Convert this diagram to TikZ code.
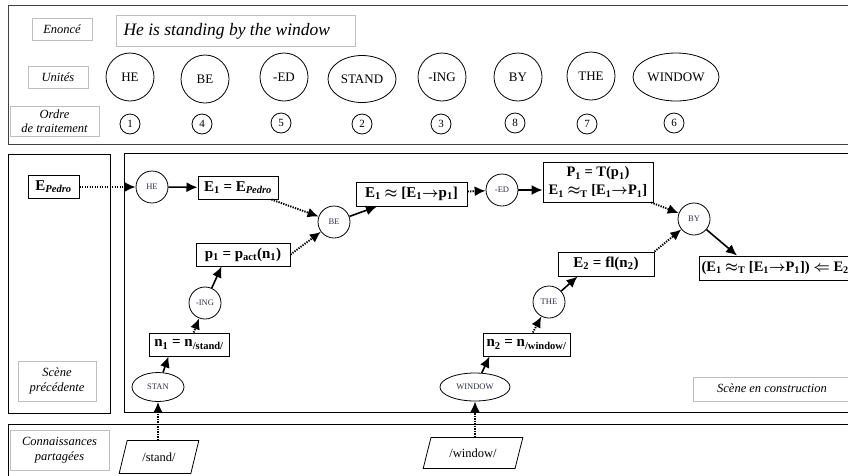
\documentclass[tikz,border=0pt]{standalone}
\usepackage{fontspec}
\setmainfont{Liberation Serif}
\usetikzlibrary{shapes.geometric,arrows.meta,calc}
\begin{document}
\begin{tikzpicture}[x=1pt,y=-1pt,
  lbl/.style={draw=black!25,line width=0.6pt,font=\fontsize{12.5}{15}\selectfont\itshape,inner sep=2pt,align=center},
  unit/.style={circle,draw,line width=0.8pt,minimum size=48pt,inner sep=0pt,font=\fontsize{13}{14}\selectfont},
  unitell/.style={ellipse,draw,line width=0.8pt,inner sep=0pt,font=\fontsize{13}{14}\selectfont},
  num/.style={circle,draw,line width=0.8pt,minimum size=20pt,inner sep=0pt,font=\fontsize{11}{12}\selectfont},
  eq/.style={draw,line width=1pt,inner sep=2.5pt,minimum height=23pt,font=\fontsize{15}{17}\selectfont\bfseries\boldmath,align=center},
  op/.style={circle,draw,line width=0.8pt,minimum size=32pt,inner sep=0pt,text=opcol,font=\fontsize{8.5}{9}\selectfont},
  opell/.style={ellipse,draw,line width=0.8pt,inner sep=0pt,text=opcol,font=\fontsize{8.5}{9}\selectfont},
  para/.style={trapezium,trapezium left angle=72,trapezium right angle=108,trapezium stretches=true,draw,line width=0.8pt,font=\fontsize{12.5}{14}\selectfont},
  panel/.style={draw,line width=0.8pt},
  sarrow/.style={line width=1.6pt,-{Latex[length=11pt,width=10pt]}},
  darrow/.style={line width=1.9pt,dash pattern=on 1.3pt off 1.2pt,-{Latex[length=11pt,width=10pt]}}
]
\definecolor{opcol}{rgb}{0.18,0.18,0.32}
\useasboundingbox (0,0) rectangle (848,475);
\clip (0,0) rectangle (848,475);
\fill[white] (0,0) rectangle (848,475);

% panels
\draw[panel,draw=black!75] (8,5) rectangle (870,144);
\draw[panel] (8,154) rectangle (110,413);
\draw[panel] (124,153) rectangle (870,412);
\draw[panel] (8,424) rectangle (870,490);

% top section labels
\node[lbl,minimum width=60pt,minimum height=22pt] (enl) at (62,29) {Enoncé};
\node[draw=black!25,line width=0.6pt,minimum width=239pt,minimum height=31pt,anchor=west,inner sep=0pt] (sent) at (116,30.5) {};
\node[anchor=west,font=\fontsize{17.5}{19}\selectfont\itshape] (senttxt) at (120,31) {He is standing by the window};
\node[lbl,minimum width=60pt,minimum height=22pt] (unl) at (58,77) {Unités};
\node[lbl,minimum width=89pt,minimum height=30pt,font=\fontsize{12.5}{14.5}\selectfont\itshape] (orl) at (54.5,121) {Ordre\\de traitement};

% units
\node[unit] (uhe) at (130,77) {HE};
\node[unit] (ube) at (205,79) {BE};
\node[unit] (ued) at (284,77) {-ED};
\node[unitell,minimum width=68pt,minimum height=47pt] (ustand) at (362,79) {STAND};
\node[unit] (uing) at (442,77) {-ING};
\node[unit] (uby) at (518,77) {BY};
\node[unit] (uthe) at (591,76) {THE};
\node[unitell,minimum width=86pt,minimum height=48pt] (uwin) at (676,77) {WINDOW};

% order numbers
\node[num] (n1c) at (130,124) {1};
\node[num] (n4c) at (202,124) {4};
\node[num] (n5c) at (281,123) {5};
\node[num] (n2c) at (362,124) {2};
\node[num] (n3c) at (441,124) {3};
\node[num] (n8c) at (515,123) {8};
\node[num] (n7c) at (587,124) {7};
\node[num] (n6c) at (674,123) {6};

% scene labels
\node[lbl,minimum width=78pt,minimum height=40pt] (prev) at (57,381) {Scène\\précédente};
\node[lbl,minimum width=160pt,minimum height=24pt,anchor=west] (constr) at (693,389) {};
\node[font=\fontsize{12.5}{14}\selectfont\itshape] (constrtxt) at (772,388) {Scène en construction};
\node[lbl,minimum width=99pt,minimum height=40pt] (conn) at (59.5,450) {Connaissances\\partagées};

% main graph
\node[eq,minimum width=51pt] (ep) at (53.5,187) {E\textsubscript{\textit{Pedro}}};
\node[op] (he) at (152,187) {HE};
\node[eq,minimum width=80pt] (e1) at (238,187.5) {E\textsubscript{1} = E\textsubscript{\textit{Pedro}}};
\node[op] (be) at (334,222) {BE};
\node[eq,minimum width=94pt] (p1) at (243,254.5) {p\textsubscript{1} = p\textsubscript{act}(n\textsubscript{1})};
\node[op] (ing) at (205,303) {-ING};
\node[eq,minimum width=80pt] (nst) at (189,344.5) {n\textsubscript{1} = n\textsubscript{/stand/}};
\node[opell,minimum width=52pt,minimum height=29pt] (stan) at (158,387) {STAN};
\node[para,minimum width=80pt,minimum height=33pt] (stand) at (159,457) {/stand/};

\node[eq,minimum width=111pt,minimum height=24pt] (eap) at (411.5,194) {E\textsubscript{1} $\approx$ [E\textsubscript{1}$\rightarrow$p\textsubscript{1}]};
\node[op] (ed) at (502,190) {-ED};
\node[eq,minimum width=110pt,minimum height=40pt,inner sep=1pt,font=\fontsize{14.5}{18}\selectfont\bfseries\boldmath] (P1) at (598,182) {P\textsubscript{1} = T(p\textsubscript{1})\\E\textsubscript{1} $\approx$\textsubscript{T} [E\textsubscript{1}$\rightarrow$P\textsubscript{1}]};
\node[op] (by) at (694,219) {BY};
\node[eq,minimum width=96pt,minimum height=24pt] (e2) at (606,264) {E\textsubscript{2} = fl(n\textsubscript{2})};
\node[eq,minimum height=24pt,anchor=west,inner sep=2pt,font=\fontsize{14.5}{17}\selectfont\bfseries\boldmath] (res) at (699,268) {(E\textsubscript{1} $\approx$\textsubscript{T} [E\textsubscript{1}$\rightarrow$P\textsubscript{1}]) $\Leftarrow$ E\textsubscript{2}};
\node[op] (the) at (549,302) {THE};
\node[eq,minimum width=87pt] (nwin) at (526.5,344.5) {n\textsubscript{2} = n\textsubscript{/window/}};
\node[opell,minimum width=70pt,minimum height=28pt] (win) at (475,387) {WINDOW};
\node[para,minimum width=100pt,minimum height=31pt] (window) at (473,453) {/window/};

% connectors
\draw[darrow] (ep) -- (he);
\draw[sarrow] (he) -- (e1);
\draw[darrow] (e1) -- (be);
\draw[darrow] (p1.east) -- (be);
\draw[sarrow] (be) -- (eap);
\draw[darrow] (eap) -- (ed);
\draw[sarrow] (ed) -- (P1.west |- ed);
\draw[darrow] (P1) -- (by);
\draw[darrow] (e2.north east) -- (by);
\draw[sarrow] (by) -- ($(res.north west)+(38,0)$);
\draw[sarrow] (ing) -- ($(p1.south west)+(26,0)$);
\draw[darrow] (nst) -- (ing);
\draw[sarrow] (stan) -- ($(nst.south west)+(20,0)$);
\draw[darrow] (stand.north -| stan) -- (stan);
\draw[sarrow] (win) -- ($(nwin.south west)+(7,0)$);
\draw[darrow] (nwin) -- (the);
\draw[sarrow] (the) -- ($(e2.south west)+(20,0)$);
\draw[darrow] (window.north -| win) -- (win);
\end{tikzpicture}
\end{document}
